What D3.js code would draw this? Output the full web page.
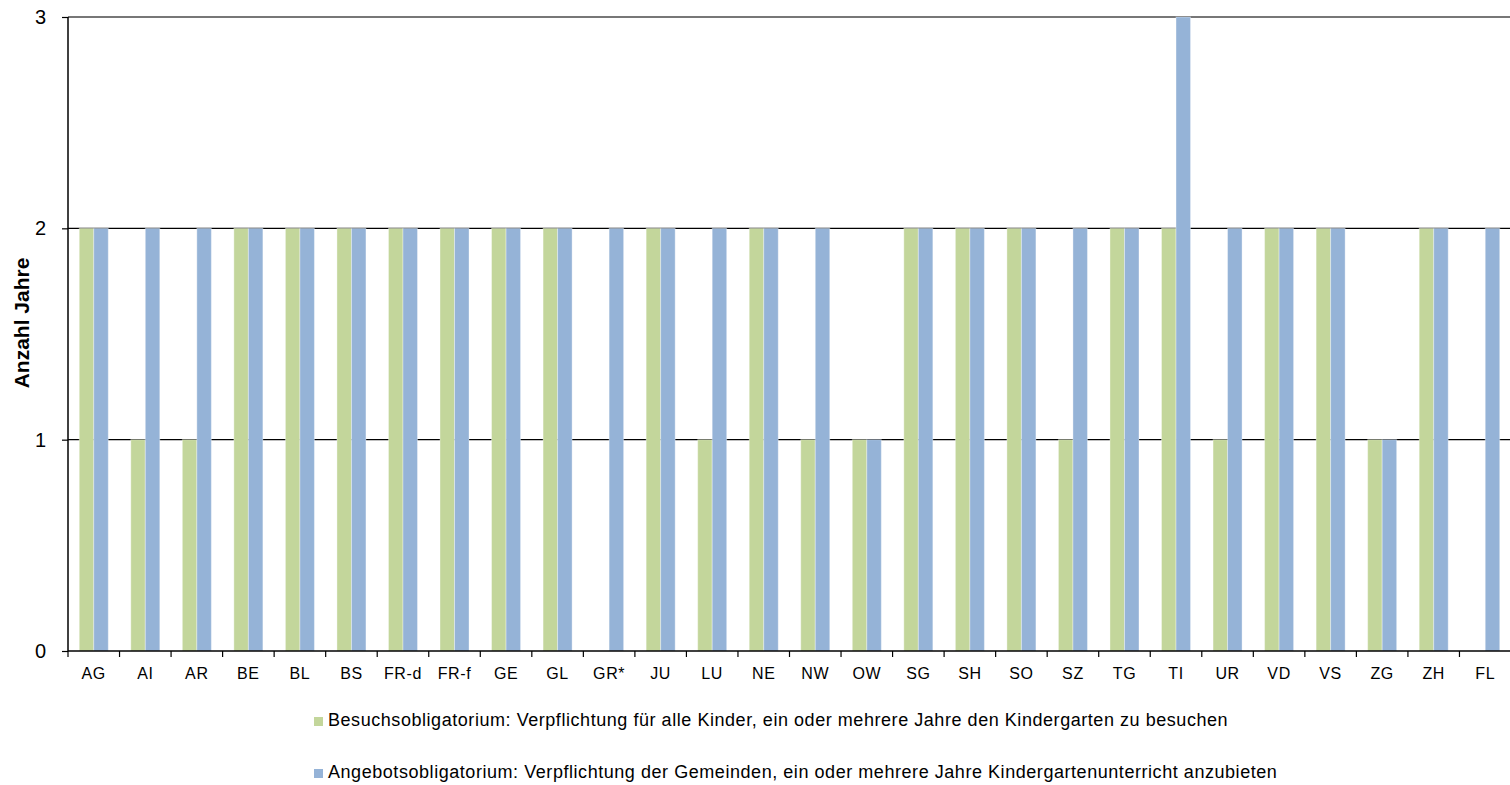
<!DOCTYPE html>
<html>
<head>
<meta charset="utf-8">
<script src="https://cdn.jsdelivr.net/npm/d3@7"></script>
<style>
  body { margin: 0; background: #fff; }
  svg { font-family: "Liberation Sans", Arial, sans-serif; }
</style>
</head>
<body>
<div id="visual"></div>
<script>
// Kantone
var categories = ["AG", "AI", "AR", "BE", "BL", "BS", "FR-d", "FR-f", "GE", "GL", "GR*", "JU", "LU", "NE", "NW", "OW", "SG", "SH", "SO", "SZ", "TG", "TI", "UR", "VD", "VS", "ZG", "ZH", "FL"];
// Besuchsobligatorium (Jahre)
var besuch = [2, 1, 1, 2, 2, 2, 2, 2, 2, 2, 0, 2, 1, 2, 1, 1, 2, 2, 2, 1, 2, 2, 1, 2, 2, 1, 2, 0];
// Angebotsobligatorium (Jahre)
var angebot = [2, 2, 2, 2, 2, 2, 2, 2, 2, 2, 2, 2, 2, 2, 2, 1, 2, 2, 2, 2, 2, 3, 2, 2, 2, 1, 2, 2];
var yTicks = [0, 1, 2, 3];
var seriesNames = [
  "Besuchsobligatorium: Verpflichtung für alle Kinder, ein oder mehrere Jahre den Kindergarten zu besuchen",
  "Angebotsobligatorium: Verpflichtung der Gemeinden, ein oder mehrere Jahre Kindergartenunterricht anzubieten"
];
var colors = ["#c3d69b", "#95b3d7"];

var width = 1510, height = 785;
var plotLeft = 68, plotRight = 1511, plotTop = 17, plotBottom = 651;

var svg = d3.select("#visual").append("svg")
  .attr("width", width)
  .attr("height", height);

//Scales
var x0 = d3.scaleBand().domain(categories).range([plotLeft, plotRight]);
var x1 = d3.scaleBand().domain([0, 1]).range([0, x0.bandwidth()]).paddingOuter(0.777);
var y = d3.scaleLinear().domain([0, 3]).range([plotBottom, plotTop]);

//Gridlines (behind bars)
svg.append("g").selectAll("line")
  .data(yTicks.filter(d => d > 0))
  .enter().append("line")
  .attr("x1", plotLeft).attr("x2", width)
  .attr("y1", d => y(d)).attr("y2", d => y(d))
  .attr("stroke", d => d === 3 ? "#777" : "#000")
  .attr("stroke-width", d => d === 3 ? 2 : 1.2);

//Bars
var rows = categories.map((c, i) => ({ cat: c, vals: [besuch[i], angebot[i]] }));
svg.append("g").selectAll("g")
  .data(rows)
  .enter().append("g")
  .attr("transform", d => "translate(" + x0(d.cat) + ",0)")
  .selectAll("rect")
  .data(d => d.vals.map((v, k) => ({ k: k, v: v })))
  .enter().append("rect")
  .attr("x", d => x1(d.k))
  .attr("width", x1.bandwidth())
  .attr("y", d => y(d.v))
  .attr("height", d => y(0) - y(d.v))
  .attr("fill", d => colors[d.k])
  .attr("stroke", "rgba(255,255,255,0.35)")
  .attr("stroke-width", 1);

//X axis
var xAxis = svg.append("g")
  .attr("transform", "translate(0," + plotBottom + ")");
xAxis.append("line")
  .attr("x1", plotLeft).attr("x2", width)
  .attr("stroke", "#000").attr("stroke-width", 1.5);
xAxis.selectAll("line.tick")
  .data(categories)
  .enter().append("line")
  .attr("class", "tick")
  .attr("x1", d => x0(d)).attr("x2", d => x0(d))
  .attr("y1", 0).attr("y2", 6)
  .attr("stroke", "#000").attr("stroke-width", 1.2);
xAxis.selectAll("text")
  .data(categories)
  .enter().append("text")
  .attr("x", d => x0(d) + x0.bandwidth() / 2)
  .attr("y", 28)
  .attr("text-anchor", "middle")
  .attr("font-size", 16)
  .attr("letter-spacing", 0.6)
  .text(d => d);

//Y axis
var yAxis = d3.axisLeft(y).tickValues(yTicks).tickSize(6).tickPadding(16).tickFormat(d3.format("d"));
svg.append("g")
  .attr("transform", "translate(" + plotLeft + ",0)")
  .call(yAxis)
  .call(g => g.select(".domain").attr("stroke-width", 1.5).attr("d", "M0," + plotTop + "V" + plotBottom))
  .call(g => g.selectAll(".tick line").attr("stroke-width", 1.2))
  .call(g => g.selectAll("text").attr("font-size", 20).attr("font-family", "Liberation Sans, Arial, sans-serif").attr("fill", "#000"));

svg.append("text")
  .attr("transform", "translate(29,323) rotate(-90)")
  .attr("text-anchor", "middle")
  .attr("font-size", 21)
  .attr("font-weight", "bold")
  .text("Anzahl Jahre");

//Legend
var legend = svg.append("g").selectAll("g")
  .data(seriesNames)
  .enter().append("g")
  .attr("transform", (d, i) => "translate(314," + (726 + i * 52) + ")");
legend.append("rect")
  .attr("x", 0).attr("y", -9)
  .attr("width", 9).attr("height", 9)
  .attr("fill", (d, i) => colors[i]);
legend.append("text")
  .attr("x", 14).attr("y", 0)
  .attr("font-size", 18)
  .attr("letter-spacing", 0.55)
  .text(d => d);
</script>
</body>
</html>
